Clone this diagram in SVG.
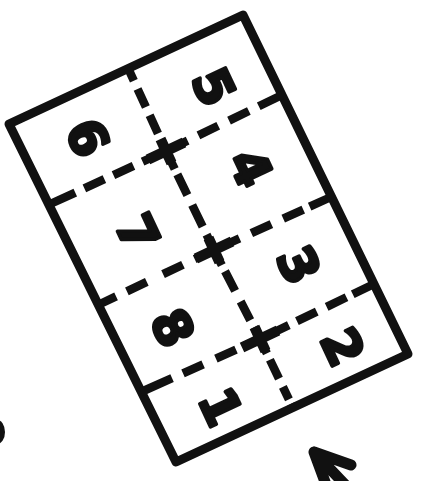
<svg xmlns="http://www.w3.org/2000/svg" width="422" height="481" viewBox="0 0 422 481">
<style>
.frame{fill:none;stroke:#111;stroke-width:9;stroke-linejoin:round;stroke-linecap:round}
.div{fill:none;stroke:#111;stroke-width:8.5;stroke-linecap:butt}
.cross{fill:none;stroke:#111;stroke-width:10.5;stroke-linecap:butt}
.num{font-family:"DejaVu Sans",sans-serif;font-weight:bold;font-size:50px;fill:#111;stroke:#111;stroke-width:3.5;stroke-linejoin:round;text-anchor:middle;dominant-baseline:central}
.mark{fill:none;stroke:#111;stroke-width:11;stroke-linecap:round;stroke-linejoin:round}
</style>
<rect width="422" height="481" fill="#fff"/>
<g id="frame">
<path class="frame" d="M9,124 L243,15 L408,354 L176,462 Z"/>
</g>
<g id="connectors">
<path class="div" d="M48,205 L166,151" stroke-dasharray="30 10 22 10 22 10 40"/>
<path class="div" d="M166,151 L282,95" stroke-dasharray="24 12 22 12 22 11 40"/>
<path class="div" d="M98,305 L214,250" stroke-dasharray="20 12 22 18 22 13 40"/>
<path class="div" d="M214,250 L331,197" stroke-dasharray="28 13 22 13 22 7 40"/>
<path class="div" d="M141,392 L260,339" stroke-dasharray="34 12 22 14 22 8 40"/>
<path class="div" d="M260,339 L374,284" stroke-dasharray="32 9 22 11 22 7 40"/>
<path class="div" d="M128,68 L166,151" stroke-dasharray="14 9 20 9 20 8 40"/>
<path class="div" d="M166,151 L214,250" stroke-dasharray="20 6 23 11 24 9 40"/>
<path class="div" d="M214,250 L260,339" stroke-dasharray="17 7 22 12 21 8 40"/>
<path class="div" d="M260,339 L293,408" stroke-dasharray="16 7 21 9 14 5 20"/>
<path class="cross" d="M148,159.5 L184,142.5 M160.5,139 L171.5,163"/>
<path class="cross" d="M196,258.5 L232,241.5 M208.5,238 L219.5,262"/>
<path class="cross" d="M242,347.5 L278,330.5 M254.5,327 L265.5,351"/>
</g>
<g id="cell-6"><text class="num" transform="translate(87,138) rotate(65)">6</text></g>
<g id="cell-5"><text class="num" transform="translate(213,87) rotate(65)">5</text></g>
<g id="cell-4"><text class="num" transform="translate(250,168) rotate(65)">4</text></g>
<g id="cell-7"><text class="num" transform="translate(137,233) rotate(65)">7</text></g>
<g id="cell-3"><text class="num" transform="translate(298,265) rotate(65)">3</text></g>
<g id="cell-8"><text class="num" transform="translate(172,328) rotate(65)">8</text></g>
<g id="cell-2"><text class="num" transform="translate(342,347) rotate(65)">2</text></g>
<g id="cell-1"><text class="num" transform="translate(220,407) rotate(65)">1</text></g>
<g id="arrow">
<path class="mark" d="M351,465 L314,452 L328,490 M314,452 L352,492"/>
</g>
<g id="edge-mark">
<ellipse cx="-3" cy="432" rx="8" ry="12" fill="#111"/>
</g>
</svg>
